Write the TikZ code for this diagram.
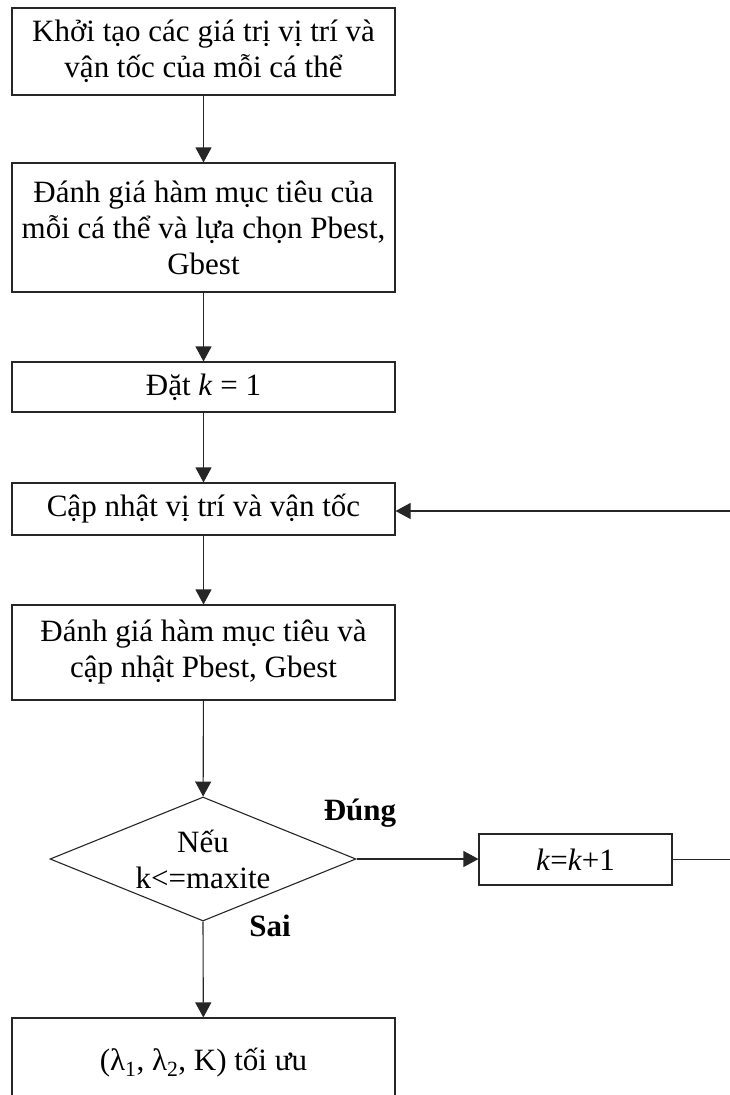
\documentclass[tikz,border=0pt]{standalone}
\usepackage{fontspec}
\setmainfont{Liberation Serif}
\usepackage{xcolor}
\usepackage{tikz}
\usetikzlibrary{shapes.geometric}
\usetikzlibrary{arrows.meta}

\begin{document}
\begin{tikzpicture}[x = 1pt, y = -1pt,
        stepbox/.style = {draw = black!85, line width = 1.1pt, align = center,
            inner sep = 0pt, minimum width = 383pt},
        testbox/.style = {draw = black!85, line width = 1.1pt, diamond, aspect = 2.47,
            align = center, inner sep = 0pt, minimum width = 306pt, minimum height = 124pt},
        flow/.style = {draw = black!85, line width = 1.1pt,
            -{Triangle[length = 15pt, width = 16pt]}},
        answer/.style = {font = \bfseries}]
            \fontsize{31}{36}\selectfont
            \useasboundingbox (0, 0) rectangle (730, 1095);

            \node[stepbox, minimum height = 87pt] (init) at (203.5, 51.5)
                {Khởi tạo các giá trị vị trí và\\vận tốc của mỗi cá thể};
            \node[stepbox, minimum height = 129pt] (eval) at (203.5, 227.5)
                {Đánh giá hàm mục tiêu của\\mỗi cá thể và lựa chọn Pbest,\\Gbest};
            \node[stepbox, minimum height = 50pt] (setk) at (203.5, 387)
                {Đặt \textit{k} = 1};
            \node[stepbox, minimum height = 52pt] (update) at (203.5, 509)
                {Cập nhật vị trí và vận tốc};
            \node[stepbox, minimum height = 95pt] (reeval) at (203.5, 652.5)
                {Đánh giá hàm mục tiêu và\\cập nhật Pbest, Gbest};
            \node[testbox] (test) at (203, 859)
                {Nếu\\k<=maxite};
            \node[stepbox, minimum width = 193pt, minimum height = 51pt] (incr) at (575.5, 859.5)
                {\textit{k}=\textit{k}+1};
            \node[stepbox, minimum height = 90pt] (result) at (203.5, 1063)
                {(λ\textsubscript{1}, λ\textsubscript{2}, K) tối ưu};

            \node[answer] (yes) at (360, 813) {Đúng};
            \node[answer] (no) at (270, 926) {Sai};

            % the loop goes out past the right edge
            \coordinate (loopdown) at (731.5, 859.5);
            \coordinate (loopup) at (731.5, 511);

            \draw[flow] (init) -- (eval);
            \draw[flow] (eval) -- (setk);
            \draw[flow] (setk) -- (update);
            \draw[flow] (update) -- (reeval);
            \draw[flow] (reeval) -- (test);
            \draw[flow] (test) -- (test -| incr.west);
            \draw[flow] (test.south) -- (result);
            \draw[flow] (incr) -- (loopdown) -- (loopup) -- (loopup -| update.east);
        \end{tikzpicture}
\end{document}
